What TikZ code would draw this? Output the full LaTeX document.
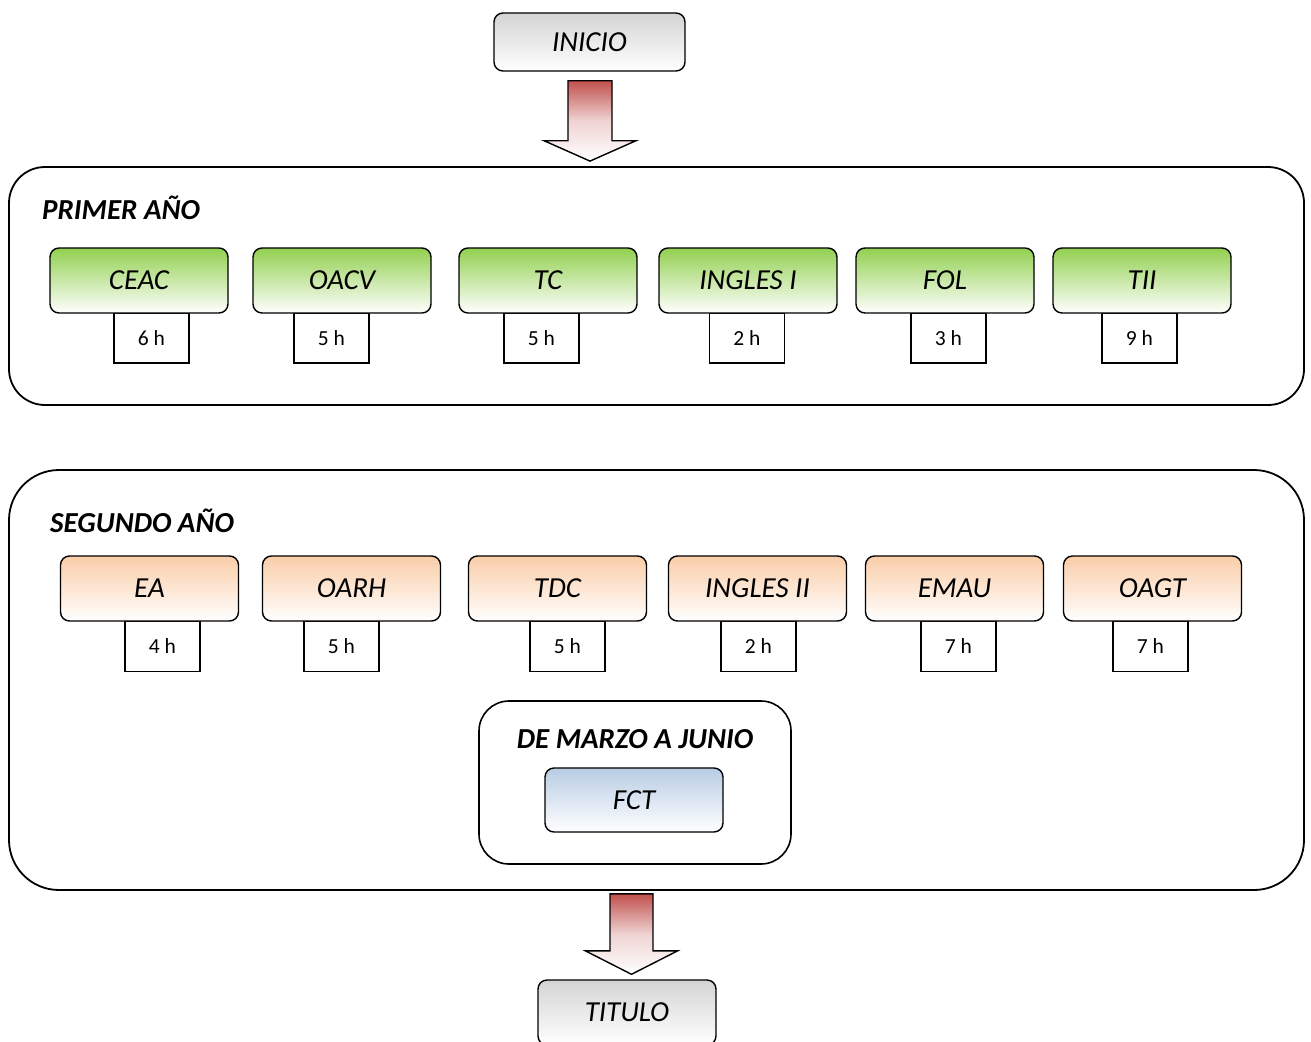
\documentclass[tikz,border=0pt]{standalone}
\usepackage{fontspec}
\setmainfont{Carlito}
\usetikzlibrary{calc, positioning}
\definecolor{verde}{RGB}{146,208,80}
\definecolor{naranja}{RGB}{250,205,168}
\definecolor{azul}{RGB}{184,204,228}
\definecolor{gris}{RGB}{212,212,212}
\definecolor{rojo}{RGB}{192,80,77}
\tikzset{%
modulo/.style={
    draw, line width=1.4pt, rounded corners=9pt,
    minimum width=178pt, minimum height=65pt,
    anchor=center, align=center, inner sep=0pt,
    font=\fontsize{29}{34}\selectfont\itshape
  },
  primero/.style={modulo, top color=verde, bottom color=white},
  segundo/.style={modulo, top color=naranja, bottom color=white},
  practicas/.style={modulo, top color=azul, bottom color=white, minimum height=64pt},
  extremo/.style={modulo, top color=gris, bottom color=white},
  horas/.style={
    draw, fill=white, line width=1.4pt,
    minimum width=75pt, minimum height=50pt,
    inner sep=0pt, font=\fontsize{21.5}{25}\selectfont
  },
  curso/.style={draw, line width=1.8pt, inner sep=0pt},
  titulo/.style={font=\fontsize{29}{34}\selectfont\bfseries\itshape, inner sep=0pt},
  flecha/.style={draw, line width=1.4pt, top color=rojo, bottom color=white, middle color=rojo!25}
}
\begin{document}
\begin{tikzpicture}[x=1pt, y=-1pt]
\useasboundingbox (0,0) rectangle (1311,1041);

\node[extremo, minimum width=191pt, minimum height=58pt] (inicio) at (589.5,42) {INICIO};

\node[curso, rounded corners=36pt, minimum width=1295pt, minimum height=238pt] (primer) at (656.5,286) {};
\node[titulo, anchor=west] (tprimer) at (42,208) {PRIMER AÑO};

\node[horas] (hceac) at (151.5,338) {6 h};
\node[horas] (hoacv) at (331.5,338) {5 h};
\node[horas] (htc) at (541.5,338) {5 h};
\node[horas] (hingI) at (747,338) {2 h};
\node[horas] (hfol) at (948.5,338) {3 h};
\node[horas] (htii) at (1139.5,338) {9 h};

\node[primero] (ceac) at (139,280.5) {CEAC};
\node[primero] (oacv) at (342,280.5) {OACV};
\node[primero] (tc) at (548,280.5) {TC};
\node[primero] (ingI) at (748,280.5) {INGLES I};
\node[primero] (fol) at (945,280.5) {FOL};
\node[primero] (tii) at (1142,280.5) {TII};

\node[curso, rounded corners=50pt, minimum width=1295pt, minimum height=420pt] (segundo) at (656.5,680) {};
\node[titulo, anchor=west] (tsegundo) at (50,521) {SEGUNDO AÑO};

\node[horas] (hea) at (162.5,646.5) {4 h};
\node[horas] (hoarh) at (341.5,646.5) {5 h};
\node[horas] (htdc) at (567.5,646.5) {5 h};
\node[horas] (hingII) at (758.5,646.5) {2 h};
\node[horas] (hemau) at (958.5,646.5) {7 h};
\node[horas] (hoagt) at (1150.5,646.5) {7 h};

\node[segundo] (ea) at (149.5,588.5) {EA};
\node[segundo] (oarh) at (351.5,588.5) {OARH};
\node[segundo] (tdc) at (557.5,588.5) {TDC};
\node[segundo] (ingII) at (757.5,588.5) {INGLES II};
\node[segundo] (emau) at (954.5,588.5) {EMAU};
\node[segundo] (oagt) at (1152.5,588.5) {OAGT};

\node[curso, line width=1.6pt, rounded corners=30pt, minimum width=312pt, minimum height=163pt] (marzo) at (635,782.5) {};
\node[titulo] (tmarzo) at (635,739) {DE MARZO A JUNIO};
\node[practicas] (fct) at (634,800) {FCT};

\node[extremo] (fin) at (627,1012.5) {TITULO};

% flechas
\coordinate (a1) at ($(inicio.south)+(0.5,0)$);
\path[flecha] ($(a1)+(-22,9)$) -- ($(a1)+(22,9)$) -- ($(a1)+(22,69)$) -- ($(a1)+(46,69)$)
      -- ($(a1 |- primer.north)+(0,-5)$) -- ($(a1)+(-46,69)$) -- ($(a1)+(-22,69)$) -- cycle;
\coordinate (a2) at ($(fin.north |- segundo.south)+(4.5,0)$);
\path[flecha] ($(a2)+(-21.5,3)$) -- ($(a2)+(21.5,3)$) -- ($(a2)+(21.5,60)$) -- ($(a2)+(46,60)$)
      -- ($(fin.north)+(4.5,-5)$) -- ($(a2)+(-46,60)$) -- ($(a2)+(-21.5,60)$) -- cycle;
\end{tikzpicture}
\end{document}
